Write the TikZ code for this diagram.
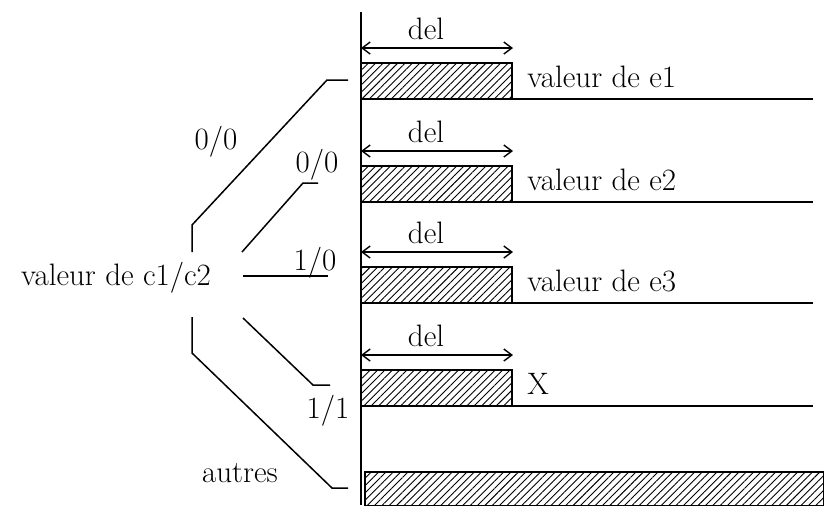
\documentclass[tikz,border=0pt]{standalone}
\usepackage{tikz}
\usetikzlibrary{patterns.meta,arrows.meta,positioning}

\tikzset{
  hatch/.style={draw, line width=0.7pt, pattern={Lines[angle=45,distance=2.6pt,line width=0.45pt]}},
  dimline/.style={{Straight Barb[length=4pt,width=6pt]}-{Straight Barb[length=4pt,width=6pt]}, line width=0.7pt},
  brace/.style={line width=0.75pt},
  lbl/.style={font=\fontsize{15.5}{18}\selectfont, inner sep=0pt},
}

\begin{document}
\begin{tikzpicture}[x=0.5pt,y=-0.5pt]
  \useasboundingbox (0,0) rectangle (824,505);
  \draw[line width=1.1pt] (361,12) -- (361,505);
  \foreach \i/\top/\txt in {1/63/valeur de e1, 2/166/valeur de e2, 3/267/valeur de e3, 4/370/X} {
    \draw[hatch] (361,\top) rectangle (512,\top+36);
    \coordinate (bar\i) at (512,\top+36);
    \draw[line width=0.7pt] (bar\i) -- (813,\top+36);
    \coordinate (dl\i) at (361,\top-15);
    \coordinate (dr\i) at (513,\top-15);
    \draw[dimline] (dl\i) -- (dr\i);
    \node[lbl] (del\i) at (426,\top-34) {del};
    \node[lbl, anchor=west] (val\i) at (527,\top+14) {\txt};
  }
  \draw[hatch] (365,472) rectangle (824,506);

  \node[lbl] (cval) at (116,278) {valeur de c1/c2};
  \coordinate (t1) at (348,80);
  \coordinate (t2) at (318,183);
  \coordinate (t3) at (328,276);
  \coordinate (t4) at (330,385);
  \coordinate (t5) at (348,488);
  \draw[brace] (192,252) -- (192,225) -- (327,80) -- (t1);
  \draw[brace] (242,252) -- (303,183) -- (t2);
  \draw[brace] (243,276) -- (t3);
  \draw[brace] (243,318) -- (313,385) -- (t4);
  \draw[brace] (192,317) -- (192,353) -- (332,488) -- (t5);
  \node[lbl] (c1) at (216,142) {0/0};
  \node[lbl] (c2) at (317,165) {0/0};
  \node[lbl] (c3) at (315,263) {1/0};
  \node[lbl] (c4) at (328,411) {1/1};
  \node[lbl] (c5) at (240,473) {autres};
\end{tikzpicture}
\end{document}
